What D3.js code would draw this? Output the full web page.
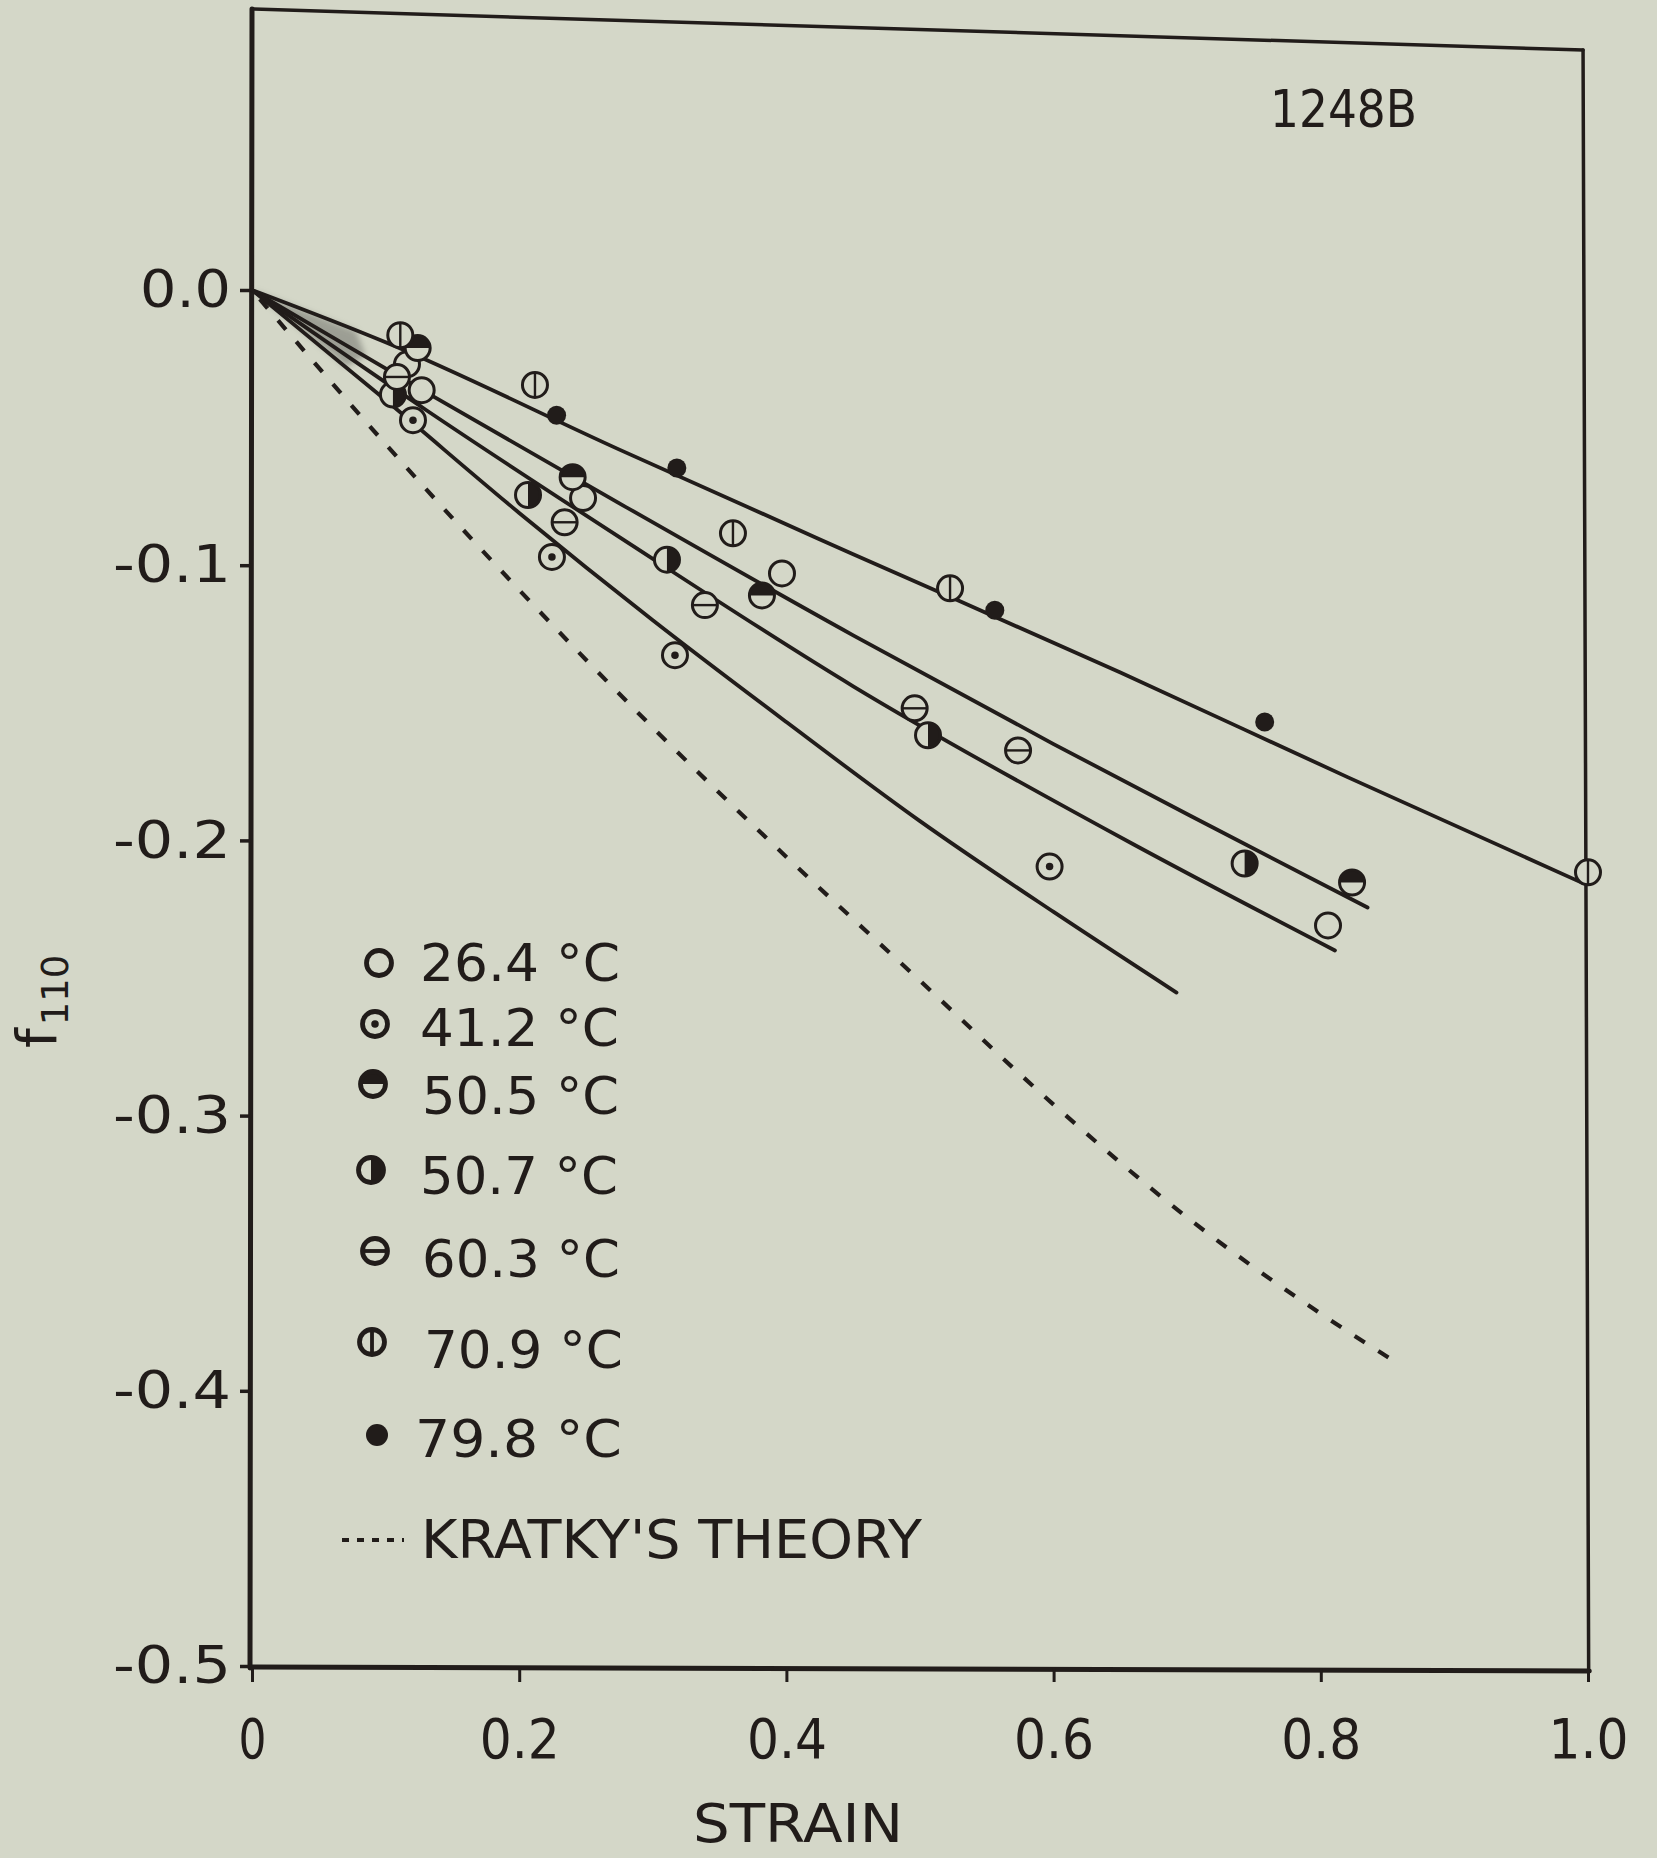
<!DOCTYPE html>
<html>
<head>
<meta charset="utf-8">
<script src="https://cdn.jsdelivr.net/npm/d3@7"></script>
<style>
  html, body { margin: 0; padding: 0; background: #d4d7c8; }
  svg { display: block; }
  text { font-family: "DejaVu Sans", "Liberation Sans", sans-serif; fill: #211c1a; }
</style>
</head>
<body>
<svg id="chart" width="1657" height="1858"></svg>
<script>
// Orientation function f110 of sample 1248B against strain, several temperatures.

// ---- axes ----
const strainTicks = [0, 0.2, 0.4, 0.6, 0.8, 1.0];
const strainTickLabels = ["0", "0.2", "0.4", "0.6", "0.8", "1.0"];
const f110Ticks = [0, -0.1, -0.2, -0.3, -0.4, -0.5];
const f110TickLabels = ["0.0", "-0.1", "-0.2", "-0.3", "-0.4", "-0.5"];

// ---- measured points, one pair of arrays per temperature ----
const temperatures = ["26.4 °C", "41.2 °C", "50.5 °C", "50.7 °C", "60.3 °C", "70.9 °C", "79.8 °C"];
const symbolKinds  = ["open", "dot", "topHalf", "rightHalf", "hbar", "vbar", "solid"];

const strain264 = [0.116, 0.127, 0.2478, 0.3967, 0.8054];
const f264      = [-0.027, -0.0364, -0.0756, -0.103, -0.2309];
const strain412 = [0.1205, 0.2245, 0.3166, 0.597];
const f412      = [-0.0473, -0.097, -0.1327, -0.2095];
const strain505 = [0.124, 0.240, 0.3817, 0.8234];
const f505      = [-0.0211, -0.068, -0.111, -0.2153];
const strain507 = [0.1055, 0.2066, 0.3106, 0.506, 0.743];
const f507      = [-0.038, -0.0745, -0.098, -0.1618, -0.2084];
const strain603 = [0.1085, 0.234, 0.339, 0.496, 0.5734];
const f603      = [-0.0316, -0.0844, -0.1145, -0.152, -0.1673];
const strain709 = [0.111, 0.2118, 0.36, 0.5225, 1.0];
const f709      = [-0.0164, -0.0345, -0.0884, -0.1084, -0.2116];
const strain798 = [0.228, 0.318, 0.556, 0.758];
const f798      = [-0.0455, -0.0647, -0.1164, -0.157];

// ---- drawn curves ----
const fitAStrain = [0, 0.1, 0.275, 0.45, 0.65, 0.82, 0.996];
const fitAF      = [0, -0.019, -0.058, -0.096, -0.139, -0.177, -0.2155];
const fitBStrain = [0, 0.135, 0.275, 0.45, 0.6, 0.72, 0.835];
const fitBF      = [0, -0.0385, -0.0775, -0.1255, -0.165, -0.1955, -0.2244];
const fitCStrain = [0, 0.13, 0.275, 0.45, 0.66, 0.8106];
const fitCF      = [0, -0.0435, -0.0898, -0.144, -0.2015, -0.24];
const fitDStrain = [0, 0.1, 0.2, 0.3, 0.4, 0.5, 0.6, 0.692];
const fitDF      = [0, -0.040, -0.081, -0.120, -0.157, -0.193, -0.226, -0.2553];

// Kratky's theory (dashed)
const kratkyStrain = [0, 0.1, 0.2, 0.3, 0.4, 0.5, 0.6, 0.7, 0.8, 0.851];
const kratkyF      = [0, -0.056, -0.109, -0.159, -0.206, -0.251, -0.296, -0.337, -0.372, -0.388];

// ---- styling / layout ----
const INK = "#211c1a";
const BG = "#d4d7c8";

const svg = d3.select("#chart");
svg.append("rect").attr("width", 1657).attr("height", 1858).attr("fill", BG);

const x = d3.scaleLinear().domain([0, 1]).range([252, 1588]);
const y = d3.scaleLinear().domain([-0.5, 0]).range([1666, 290]);

const zip = (a, b) => a.map((v, i) => [v, b[i]]);
const curve = d3.line().x(d => x(d[0])).y(d => y(d[1])).curve(d3.curveMonotoneX);

const defs = svg.append("defs");
defs.append("filter").attr("id", "soft")
  .append("feGaussianBlur").attr("stdDeviation", 3);

// ---- frame ----
const frame = svg.append("g").attr("fill", "none").attr("stroke", INK).attr("stroke-linecap", "round");
frame.append("path")   // top edge, slightly tilted
  .attr("d", `M${x(0)},9 L${x(0.9963)},50`).attr("stroke-width", 3.5);
frame.append("path")   // right edge
  .attr("d", `M${x(0.9963)},50 L${x(1.0005)},${y(-0.5) + 5}`).attr("stroke-width", 3.5);
frame.append("path")   // left axis
  .attr("d", `M${x(0)},9 L${x(0) - 2},${y(-0.5) + 2}`).attr("stroke-width", 5);
frame.append("path")   // bottom axis
  .attr("d", `M${x(0) - 2},${y(-0.5) + 1} L${x(1.001)},${y(-0.5) + 5}`).attr("stroke-width", 5);

// ---- axes (ticks + labels) ----
const yAxis = d3.axisLeft(y).tickValues(f110Ticks).tickSize(11).tickPadding(9)
  .tickFormat((d, i) => f110TickLabels[i]);
const gy = svg.append("g").attr("transform", `translate(${x(0) - 1},0)`).call(yAxis);
gy.select(".domain").remove();
gy.selectAll(".tick line").attr("stroke", INK).attr("stroke-width", 3.5);
gy.selectAll(".tick text")
  .attr("font-size", 52).attr("fill", INK)
  .attr("font-family", "DejaVu Sans, sans-serif")
  .attr("textLength", (d, i) => i === 0 ? 91 : 118)
  .attr("lengthAdjust", "spacingAndGlyphs");

const xAxis = d3.axisBottom(x).tickValues(strainTicks).tickSize(14).tickPadding(36)
  .tickFormat((d, i) => strainTickLabels[i]);
const gx = svg.append("g").attr("transform", `translate(0,${y(-0.5) + 2})`).call(xAxis);
gx.select(".domain").remove();
gx.selectAll(".tick line").attr("stroke", INK).attr("stroke-width", 3);
gx.selectAll(".tick text")
  .attr("font-size", 56).attr("fill", INK)
  .attr("font-family", "DejaVu Sans, sans-serif")
  .attr("textLength", (d, i) => i === 0 ? 28 : 80)
  .attr("lengthAdjust", "spacingAndGlyphs");

// axis titles
svg.append("text").attr("x", 798).attr("y", 1842).attr("text-anchor", "middle")
  .attr("font-size", 54).attr("textLength", 210).attr("lengthAdjust", "spacingAndGlyphs")
  .text("STRAIN");

const yTitle = svg.append("text").attr("transform", "translate(56,1048) rotate(-90)");
yTitle.append("tspan").attr("font-size", 56).text("f");
yTitle.append("tspan").attr("font-size", 37).attr("dy", 12).attr("dx", 3).text("110");

svg.append("text").attr("x", 1270).attr("y", 127)
  .attr("font-size", 52).attr("textLength", 147).attr("lengthAdjust", "spacingAndGlyphs")
  .text("1248B");

// ---- ink smudge where the curves meet the origin ----
const wedge = [[0, 0], [0.078, -0.0148], [0.085, -0.024], [0.07, -0.028], [0.06, -0.0235], [0, 0]];
svg.append("path")
  .attr("d", d3.line().x(d => x(d[0])).y(d => y(d[1]))(wedge))
  .attr("fill", "#6f716a").attr("opacity", 0.55).attr("filter", "url(#soft)");

// ---- curves ----
const curves = svg.append("g").attr("fill", "none").attr("stroke", INK)
  .attr("stroke-linecap", "round").attr("stroke-linejoin", "round");
[[fitAStrain, fitAF], [fitBStrain, fitBF], [fitCStrain, fitCF], [fitDStrain, fitDF]].forEach(([s, f]) => {
  curves.append("path").attr("d", curve(zip(s, f))).attr("stroke-width", 3.8);
});
curves.append("path").attr("d", curve(zip(kratkyStrain, kratkyF)))
  .attr("stroke-width", 4.2).attr("stroke-dasharray", "12 16").attr("stroke-dashoffset", -40)
  .attr("stroke-linecap", "butt");

// ---- markers ----
function drawMarker(g, kind, cx, cy, r, sw) {
  const m = g.append("g").attr("transform", `translate(${cx},${cy})`);
  if (kind === "solid") {
    m.append("circle").attr("r", r).attr("fill", INK);
    return;
  }
  m.append("circle").attr("r", r).attr("fill", BG);
  if (kind === "topHalf") {
    m.append("path").attr("d", `M${-r},0 A${r},${r} 0 0 1 ${r},0 Z`).attr("fill", INK);
  } else if (kind === "rightHalf") {
    m.append("path").attr("d", `M0,${-r} A${r},${r} 0 0 1 0,${r} Z`).attr("fill", INK);
  } else if (kind === "dot") {
    m.append("circle").attr("r", r * 0.3).attr("fill", INK);
  } else if (kind === "hbar") {
    m.append("line").attr("x1", -r).attr("x2", r).attr("stroke", INK).attr("stroke-width", sw * 0.8);
  } else if (kind === "vbar") {
    m.append("line").attr("y1", -r).attr("y2", r).attr("stroke", INK).attr("stroke-width", sw * 0.8);
  }
  m.append("circle").attr("r", r).attr("fill", "none").attr("stroke", INK).attr("stroke-width", sw);
}

const series = [
  [strain264, f264], [strain412, f412], [strain505, f505], [strain507, f507],
  [strain603, f603], [strain709, f709], [strain798, f798]
];
const pts = svg.append("g");
series.forEach(([s, f], k) => {
  s.forEach((sv, i) => {
    const kind = symbolKinds[k];
    drawMarker(pts, kind, x(sv), y(f[i]), kind === "solid" ? 9.5 : 12.5, 3);
  });
});

// ---- legend ----
const legendMarkerX = [379, 375, 373, 371, 375, 372, 377];
const legendMarkerY = [963, 1024, 1084, 1170, 1251, 1342, 1435];
const legendTextX = [420, 420, 422, 420, 422, 424, 415];
const legendTextY = [981, 1046, 1114, 1194, 1277, 1368, 1457];
const legendTextW = [200, 199, 197, 198, 198, 199, 207];
const legend = svg.append("g");
temperatures.forEach((t, i) => {
  const kind = symbolKinds[i];
  drawMarker(legend, kind, legendMarkerX[i], legendMarkerY[i], kind === "solid" ? 11 : 12.5, 4.8);
  legend.append("text").attr("x", legendTextX[i]).attr("y", legendTextY[i])
    .attr("font-size", 51).attr("textLength", legendTextW[i]).attr("lengthAdjust", "spacingAndGlyphs")
    .text(t);
});
legend.append("line").attr("x1", 342).attr("x2", 404).attr("y1", 1540).attr("y2", 1540)
  .attr("stroke", INK).attr("stroke-width", 4).attr("stroke-dasharray", "7 8");
legend.append("text").attr("x", 421).attr("y", 1558)
  .attr("font-size", 53).attr("textLength", 501).attr("lengthAdjust", "spacingAndGlyphs")
  .text("KRATKY'S THEORY");
</script>
</body>
</html>
